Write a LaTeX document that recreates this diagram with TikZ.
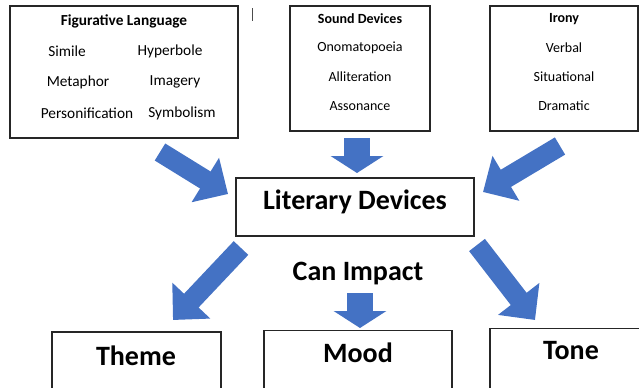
\documentclass[tikz,border=0pt]{standalone}
\usepackage{fontspec}
\setmainfont{Carlito}
\usetikzlibrary{arrows.meta, positioning}
\definecolor{arrowblue}{HTML}{4472C4}
\tikzset{
    listbox/.style={draw=black!85, line width=0.8pt, rectangle, inner sep=0pt},
    item/.style={inner sep=0pt, font=\fontsize{10.5}{12}\selectfont},
    head/.style={inner sep=0pt, font=\fontsize{10.5}{12}\selectfont\bfseries},
    figitem/.style={inner sep=0pt, font=\fontsize{11.5}{13}\selectfont},
    bigtext/.style={inner sep=0pt, font=\fontsize{21}{24}\selectfont\bfseries},
    diagarrow/.style={draw=arrowblue, line width=15pt, -{Triangle[width=38pt,length=20pt]}},
    downarrow/.style={draw=arrowblue, line width=19.5pt, -{Triangle[width=39pt,length=12.75pt]}},
}

\begin{document}
\begin{tikzpicture}[x=0.75pt, y=-0.75pt]
                \clip (0,0) rectangle (639,387);

                % boxes on top
                \node[listbox, minimum width=171pt, minimum height=99pt] (figlang) at (124,72) {};
                \node[listbox, minimum width=105pt, minimum height=93.75pt] (sound) at (360,68.5) {};
                \node[listbox, minimum width=111pt, minimum height=93.75pt] (irony) at (564,68.5) {};

                \node[head, font=\fontsize{11.5}{13}\selectfont\bfseries] (figlanghead) at (124,21) {Figurative Language};
                \node[figitem] (simile) at (67,51) {Simile};
                \node[figitem] (hyperbole) at (170,51) {Hyperbole};
                \node[figitem] (metaphor) at (78,82) {Metaphor};
                \node[figitem] (imagery) at (175,82) {Imagery};
                \node[figitem] (personif) at (87,113) {Personification};
                \node[figitem] (symbolism) at (182,113) {Symbolism};

                \node[head] (soundhead) at (360,19) {Sound Devices};
                \node[item] (onomato) at (360,48) {Onomatopoeia};
                \node[item] (allit) at (360,77) {Alliteration};
                \node[item] (asson) at (360,106) {Assonance};

                \node[head] (ironyhead) at (564,19) {Irony};
                \node[item] (verbal) at (564,48) {Verbal};
                \node[item] (situat) at (564,77) {Situational};
                \node[item] (dramatic) at (564,106) {Dramatic};

                \draw[black!70, line width=0.6pt] (252,8) -- (252,21);

                % middle
                \node[listbox, minimum width=178.5pt, minimum height=43.5pt] (litdev) at (355,207) {};
                \node[bigtext] (litdevtext) at (355,202) {Literary Devices};
                \node[bigtext] (canimpact) at (358,274) {Can Impact};

                % boxes at the bottom
                \node[listbox, minimum width=126.75pt, minimum height=48pt] (theme) at (136.5,364) {};
                \node[listbox, minimum width=141pt, minimum height=49pt] (mood) at (358,363) {};
                \node[listbox, minimum width=116.25pt, minimum height=50pt] (tone) at (567.5,362) {};
                \node[bigtext] (themetext) at (136,356) {Theme};
                \node[bigtext] (moodtext) at (358,353) {Mood};
                \node[bigtext] (tonetext) at (571,351) {Tone};

                % arrows
                \coordinate (a1s) at (160,152);
                \coordinate (a1e) at (228,194);
                \coordinate (a2s) at (357,138);
                \coordinate (a2e) at (357,173);
                \coordinate (a3s) at (560,146);
                \coordinate (a3e) at (483,192);
                \coordinate (a4s) at (241,248);
                \coordinate (a4e) at (173,320);
                \coordinate (a5s) at (360,293);
                \coordinate (a5e) at (360,328);
                \coordinate (a6s) at (477,245);
                \coordinate (a6e) at (535,320);

                \draw[diagarrow] (a1s) -- (a1e);
                \draw[downarrow] (a2s) -- (a2e);
                \draw[diagarrow] (a3s) -- (a3e);
                \draw[diagarrow] (a4s) -- (a4e);
                \draw[downarrow] (a5s) -- (a5e);
                \draw[diagarrow] (a6s) -- (a6e);

\end{tikzpicture}
\end{document}
